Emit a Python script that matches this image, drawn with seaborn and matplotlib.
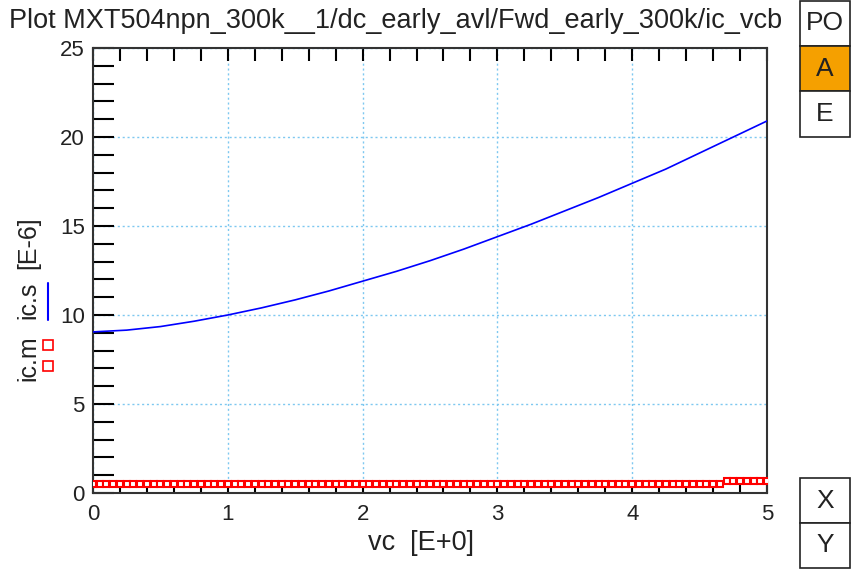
import matplotlib
matplotlib.use("Agg")
import matplotlib.pyplot as plt
import seaborn as sns
import pandas as pd
from matplotlib.patches import Rectangle
from matplotlib.lines import Line2D
from matplotlib.ticker import MultipleLocator

sns.set_theme(style="white")
plt.rcParams['font.family'] = ['Liberation Sans', 'DejaVu Sans']

# simulated ic.s (line)
vc_sim = [0.0, 0.25, 0.5, 0.75, 1.0, 1.25, 1.5, 1.75, 2.0, 2.25, 2.5,
          2.75, 3.0, 3.25, 3.5, 3.75, 4.0, 4.25, 4.5, 4.75, 5.0]
ic_s = [9.05, 9.15, 9.35, 9.65, 10.0, 10.4, 10.85, 11.35, 11.9, 12.45, 13.05,
        13.7, 14.4, 15.1, 15.85, 16.6, 17.4, 18.2, 19.1, 20.0, 20.9]

# measured ic.m (squares)
vc_meas = [0.0, 0.05, 0.1, 0.15, 0.2, 0.25, 0.3, 0.35, 0.4, 0.45,
           0.5, 0.55, 0.6, 0.65, 0.7, 0.75, 0.8, 0.85, 0.9, 0.95,
           1.0, 1.05, 1.1, 1.15, 1.2, 1.25, 1.3, 1.35, 1.4, 1.45,
           1.5, 1.55, 1.6, 1.65, 1.7, 1.75, 1.8, 1.85, 1.9, 1.95,
           2.0, 2.05, 2.1, 2.15, 2.2, 2.25, 2.3, 2.35, 2.4, 2.45,
           2.5, 2.55, 2.6, 2.65, 2.7, 2.75, 2.8, 2.85, 2.9, 2.95,
           3.0, 3.05, 3.1, 3.15, 3.2, 3.25, 3.3, 3.35, 3.4, 3.45,
           3.5, 3.55, 3.6, 3.65, 3.7, 3.75, 3.8, 3.85, 3.9, 3.95,
           4.0, 4.05, 4.1, 4.15, 4.2, 4.25, 4.3, 4.35, 4.4, 4.45,
           4.5, 4.55, 4.6, 4.65, 4.7, 4.75, 4.8, 4.85, 4.9, 4.95, 5.0]
ic_m = [0.50, 0.50, 0.50, 0.50, 0.50, 0.50, 0.50, 0.50, 0.50, 0.50,
        0.50, 0.50, 0.50, 0.50, 0.50, 0.50, 0.50, 0.50, 0.50, 0.50,
        0.50, 0.50, 0.50, 0.50, 0.50, 0.50, 0.50, 0.50, 0.50, 0.50,
        0.50, 0.50, 0.50, 0.50, 0.50, 0.50, 0.50, 0.50, 0.50, 0.50,
        0.50, 0.50, 0.50, 0.50, 0.50, 0.50, 0.50, 0.50, 0.50, 0.50,
        0.50, 0.50, 0.50, 0.50, 0.50, 0.50, 0.50, 0.50, 0.50, 0.50,
        0.50, 0.50, 0.50, 0.50, 0.50, 0.50, 0.50, 0.50, 0.50, 0.50,
        0.50, 0.50, 0.50, 0.50, 0.50, 0.50, 0.50, 0.50, 0.50, 0.50,
        0.50, 0.50, 0.50, 0.50, 0.50, 0.50, 0.50, 0.50, 0.50, 0.50,
        0.50, 0.50, 0.50, 0.50, 0.65, 0.65, 0.65, 0.65, 0.65, 0.65, 0.65]

x_ticks = [0, 1, 2, 3, 4, 5]
y_ticks = [0, 5, 10, 15, 20, 25]

df_s = pd.DataFrame({"vc": vc_sim, "ic": ic_s})
df_m = pd.DataFrame({"vc": vc_meas, "ic": ic_m})

TXT = "#222222"
FS = 19.5

fig = plt.figure(figsize=(8.52, 5.69), dpi=100)
ax = fig.add_axes([93/852, 1-493/569, (767-93)/852, (493-48)/569])

sns.lineplot(data=df_s, x="vc", y="ic", ax=ax, color="#0000ff", linewidth=1.2, zorder=3)
sns.lineplot(data=df_m, x="vc", y="ic", ax=ax, color="red", linestyle="none",
             marker="s", markersize=5, markerfacecolor="white",
             markeredgecolor="red", markeredgewidth=1.5, zorder=4)

ax.set_xlim(0, 5)
ax.set_ylim(0, 25)
ax.set_xticks(x_ticks)
ax.set_yticks(y_ticks)
ax.xaxis.set_minor_locator(MultipleLocator(0.2))
ax.yaxis.set_minor_locator(MultipleLocator(1))
ax.grid(True, which="major", color="#7ec8f0", linestyle=(0, (1.5, 2)), linewidth=1)
ax.set_xlabel("")
ax.set_ylabel("")

ax.tick_params(axis="x", which="both", direction="in", top=True, bottom=True,
               labelsize=16, colors="black", labelcolor=TXT, pad=8)
ax.tick_params(axis="x", which="major", length=9, width=1.5)
ax.tick_params(axis="x", which="minor", length=9, width=1.5)
ax.tick_params(axis="y", which="both", direction="in", left=True, right=False,
               labelsize=16, colors="black", labelcolor=TXT, pad=6)
ax.tick_params(axis="y", which="major", length=15, width=1.5)
ax.tick_params(axis="y", which="minor", length=15, width=1.5)
for sp in ax.spines.values():
    sp.set_color("#333333")
    sp.set_linewidth(1.5)

fig.text(9/852, 1-21/569,
         "Plot MXT504npn_300k__1/dc_early_avl/Fwd_early_300k/ic_vcb",
         fontsize=FS, ha="left", va="center", color=TXT)
fig.text(421/852, 1-543/569, "vc  [E+0]", fontsize=FS, ha="center", va="center",
         color=TXT)

# y-axis label pieces
YFS = 18
fig.text(28/852, 1-358/569, "ic.m", rotation=90, fontsize=YFS, ha="center", va="center", color=TXT)
fig.text(28/852, 1-300/569, "ic.s", rotation=90, fontsize=YFS, ha="center", va="center", color=TXT)
fig.text(28/852, 1-243/569, "[E-6]", rotation=90, fontsize=YFS, ha="center", va="center", color=TXT)
fig.add_artist(Line2D([48/852, 48/852], [1-320/569, 1-283/569], color="#0000ff", linewidth=1.5))
for yy in (345, 366):
    fig.add_artist(Rectangle(((48-5)/852, 1-(yy+5)/569), 10/852, 10/569,
                             facecolor="white", edgecolor="red", linewidth=1.2))

# right-side buttons
def box(y0, y1, label, fc="white"):
    fig.add_artist(Rectangle((800/852, 1-y1/569), 50/852, (y1-y0)/569,
                             facecolor=fc, edgecolor="#222222", linewidth=1.2))
    fig.text(825/852, 1-(y0+y1)/2/569, label, fontsize=19, ha="center", va="center",
             color=TXT)

box(1, 46, "PO")
box(46, 91, "A", fc="#f5a000")
box(91, 137, "E")
box(478, 523, "X")
box(523, 568, "Y")

fig.savefig("out.png", dpi=100)
